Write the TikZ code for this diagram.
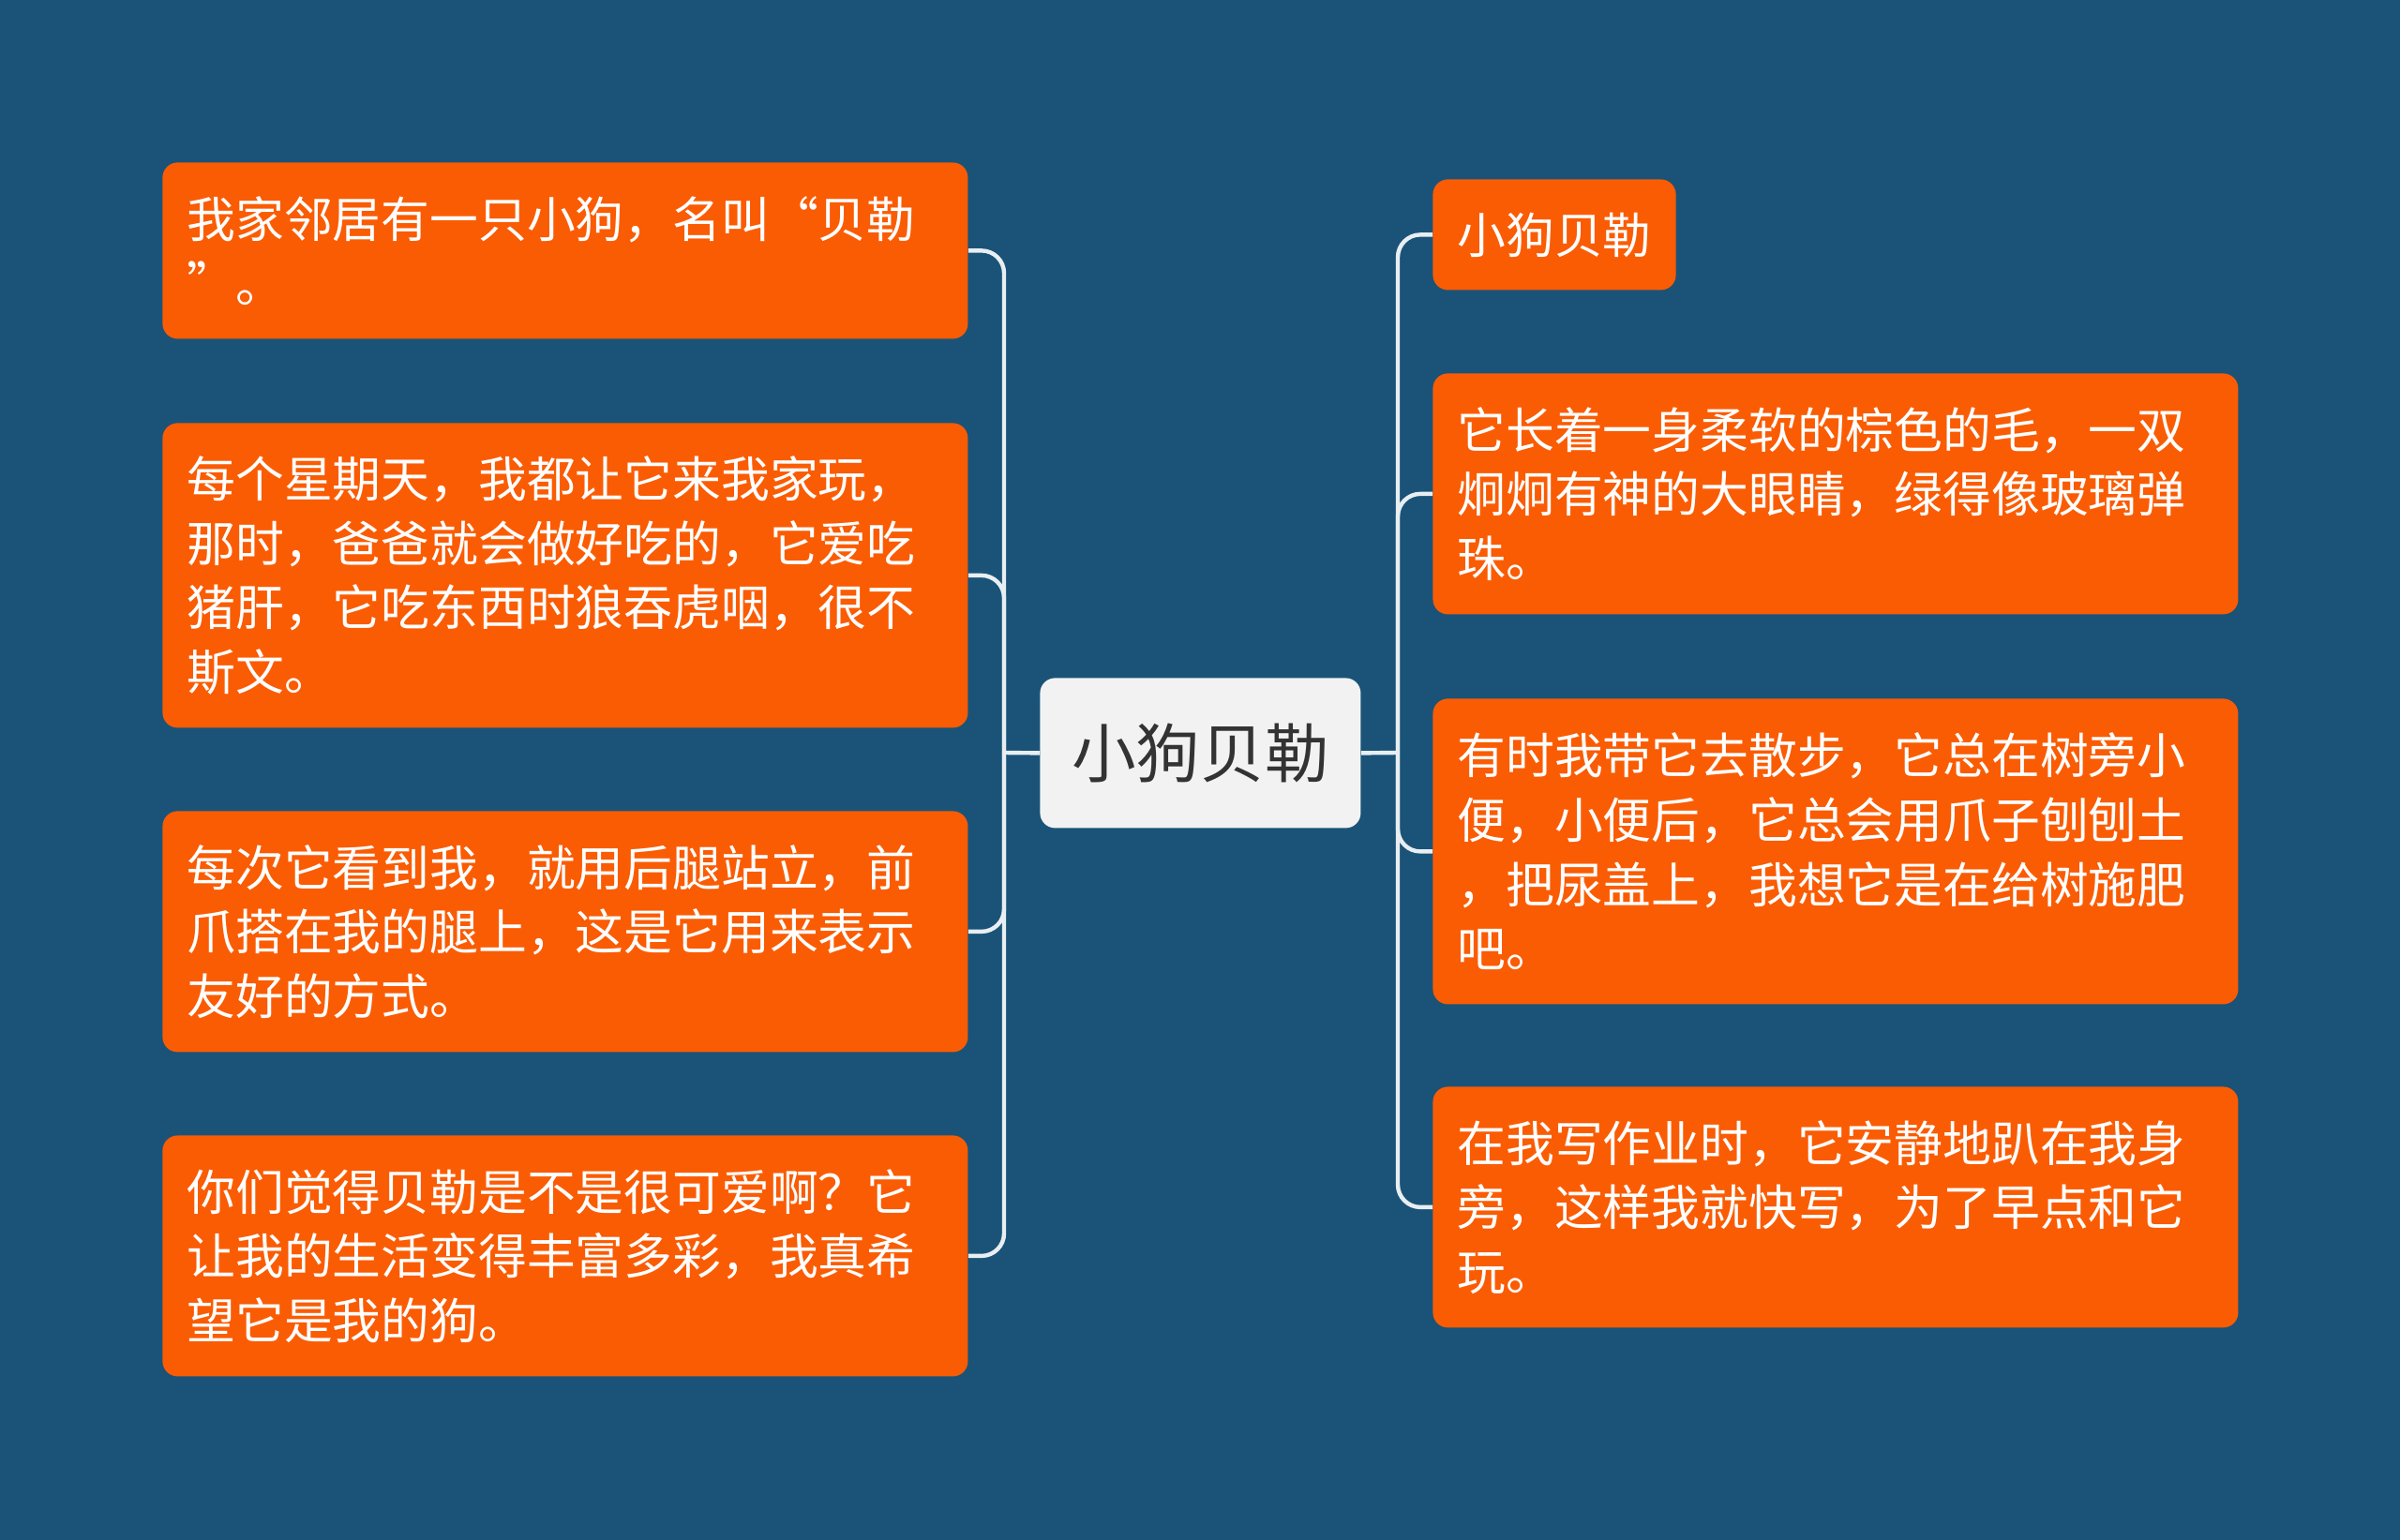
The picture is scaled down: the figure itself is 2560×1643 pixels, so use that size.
\documentclass[tikz,border=0pt]{standalone}
\usepackage{fontspec}
\newfontfamily\cjk{Noto Sans CJK SC}
\definecolor{bg}{HTML}{1A5377}
\definecolor{org}{HTML}{FA5C04}
\definecolor{ctr}{HTML}{F2F2F2}
\definecolor{ctrtext}{HTML}{333333}
\definecolor{ln}{HTML}{E8EEF2}
\begin{document}
\begin{tikzpicture}[x=0.5pt,y=-0.5pt,
  leaf/.style={draw=none,fill=org,rounded corners=8pt,text=white,
    font=\cjk\fontsize{25.9pt}{34.3pt}\selectfont,align=left,anchor=north west,
    inner xsep=13pt,inner ysep=0pt,text width=403.5pt},
  shortleaf/.style={draw=none,fill=org,rounded corners=8pt,text=white,
    font=\cjk\fontsize{25.9pt}{34.3pt}\selectfont,anchor=north west,
    inner xsep=13pt,inner ysep=0pt},
  centre/.style={draw=none,fill=ctr,rounded corners=8pt,text=ctrtext,
    font=\cjk\fontsize{34.3pt}{40pt}\selectfont,anchor=north west,
    inner sep=0pt,minimum width=171pt,minimum height=80pt},
  conn/.style={draw=ln,line width=2.2pt}
]
\useasboundingbox[fill=bg] (0,0) rectangle (2560,1643);

\node[centre] (c) at (1109,723) {小狗贝勒};

\node[leaf,minimum height=94pt] (L1) at (173,173) {我家邻居有一只小狗，名叫“贝勒\\”。};
\node[leaf,minimum height=162.5pt] (L2) at (173,451) {每个星期天，我都让它来我家玩，\\那时，爸爸就会做好吃的，它爱吃\\猪肝，它吃东西时狼吞虎咽，很不\\斯文。};
\node[leaf,minimum height=128.5pt] (L3) at (173,865) {每次它看到我，就用后腿站立，前\\爪搭在我的腿上，这是它用来表示\\友好的方式。};
\node[leaf,minimum height=128.5pt] (L4) at (173,1211) {你们觉得贝勒是不是很可爱啊？它\\让我的生活变得丰富多彩，我真希\\望它是我的狗。};

\node[shortleaf,minimum height=59pt,minimum width=129pt] (R1) at (1528,191) {小狗贝勒};
\node[leaf,minimum height=128.5pt] (R2) at (1528,398) {它长着一身柔软的棕色的毛，一双\\炯炯有神的大眼睛，绿得像玻璃弹\\珠。};
\node[leaf,minimum height=163pt] (R3) at (1528,745) {有时我带它去散步，它总在树旁小\\便，小便后，它总会用爪子刨刨土\\，把尿盖上，我想它是在给树施肥\\吧。};
\node[leaf,minimum height=128.5pt] (R4) at (1528,1159) {在我写作业时，它安静地趴在我身\\旁，这样我就快写，为了早点和它\\玩。};

\coordinate (lj) at (1071,803);
\coordinate (rj) at (1491,803);
\draw[conn] (c.west) -- (lj);
\draw[conn] (c.east) -- (rj);
\foreach \n in {L1,L2,L3,L4}
  \draw[conn,rounded corners=12pt] (lj) |- (\n.east);
\foreach \n in {R1,R2,R3,R4}
  \draw[conn,rounded corners=12pt] (rj) |- (\n.west);
\end{tikzpicture}
\end{document}
